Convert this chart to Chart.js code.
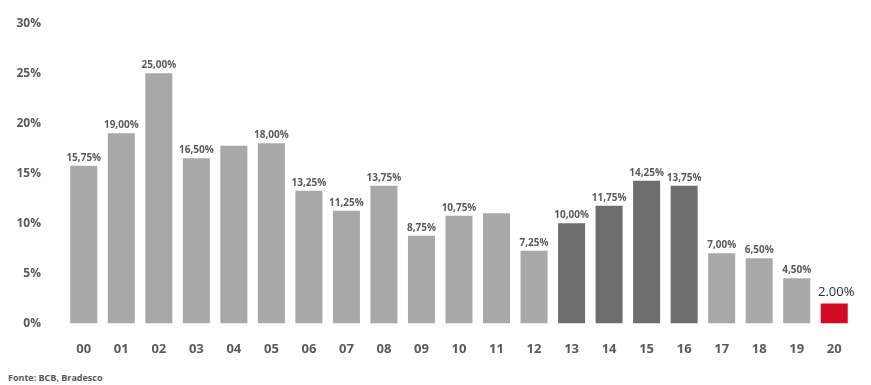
<!DOCTYPE html>
<html>
<head>
<meta charset="utf-8">
<script src="https://cdn.jsdelivr.net/npm/chart.js@4"></script>
<style>
  html, body { margin: 0; padding: 0; background: #fff; }
  #wrap { position: relative; width: 871px; height: 385px; }
  #source {
    position: absolute; left: 8px; top: 371px;
    font: bold 9px "Open Sans", sans-serif; color: #595959;
  }
</style>
</head>
<body>
<div id="wrap">
  <canvas id="chart" width="871" height="367"></canvas>
  <div id="source">Fonte: BCB, Bradesco</div>
</div>
<script>
// anos e taxa Selic no fim de cada ano
const years = ["00", "01", "02", "03", "04", "05", "06", "07", "08", "09", "10",
  "11", "12", "13", "14", "15", "16", "17", "18", "19", "20"];
const rates = [15.75, 19.0, 25.0, 16.5, 17.75, 18.0, 13.25, 11.25, 13.75, 8.75, 10.75,
  11.0, 7.25, 10.0, 11.75, 14.25, 13.75, 7.0, 6.5, 4.5, 2.0];
const labels = ["15,75%", "19,00%", "25,00%", "16,50%", "", "18,00%", "13,25%", "11,25%",
  "13,75%", "8,75%", "10,75%", "", "7,25%", "10,00%", "11,75%", "14,25%", "13,75%",
  "7,00%", "6,50%", "4,50%", "2.00%"];
const darkYears = ["13", "14", "15", "16"];
const yTicks = [0, 5, 10, 15, 20, 25, 30];

const colors = years.map((y, i) => {
  if (i === years.length - 1) return "#d20a24";
  return darkYears.includes(y) ? "#6e6e6e" : "#a8a8a8";
});

const barLabels = {
  id: "barLabels",
  afterDatasetsDraw(chart) {
    const ctx = chart.ctx;
    const meta = chart.getDatasetMeta(0);
    ctx.save();
    ctx.textAlign = "center";
    ctx.textBaseline = "bottom";
    meta.data.forEach((bar, i) => {
      const txt = labels[i];
      if (!txt) return;
      if (i === labels.length - 1) {
        ctx.font = '13px "Open Sans", sans-serif';
        ctx.fillStyle = "#1e2a3a";
        ctx.fillText(txt, bar.x + 2, bar.y - 5);
      } else {
        ctx.font = 'bold 10px "Open Sans", sans-serif';
        ctx.fillStyle = "#5a5a5a";
        ctx.fillText(txt, bar.x, bar.y - 3);
      }
    });
    ctx.restore();
  }
};

new Chart(document.getElementById("chart"), {
  type: "bar",
  data: {
    labels: years,
    datasets: [{
      data: rates,
      backgroundColor: colors,
      barPercentage: 0.72,
      categoryPercentage: 1.0
    }]
  },
  options: {
    responsive: false,
    animation: false,
    layout: { padding: { left: 0, right: 18, top: 17, bottom: 0 } },
    plugins: { legend: { display: false }, tooltip: { enabled: false } },
    scales: {
      x: {
        grid: { display: false },
        border: { display: false },
        ticks: {
          color: "#5a5a5a",
          padding: 10,
          font: { family: "Open Sans", size: 13, weight: "bold" }
        }
      },
      y: {
        min: 0,
        max: 30,
        afterBuildTicks: (axis) => { axis.ticks = yTicks.map(v => ({ value: v })); },
        grid: { display: false },
        border: { display: false },
        afterFit: (axis) => { axis.width = 65; },
        ticks: {
          color: "#5a5a5a",
          padding: 16,
          font: { family: "Open Sans", size: 12, weight: "bold" },
          callback: (v) => v + "%"
        }
      }
    }
  },
  plugins: [barLabels]
});
</script>
</body>
</html>
